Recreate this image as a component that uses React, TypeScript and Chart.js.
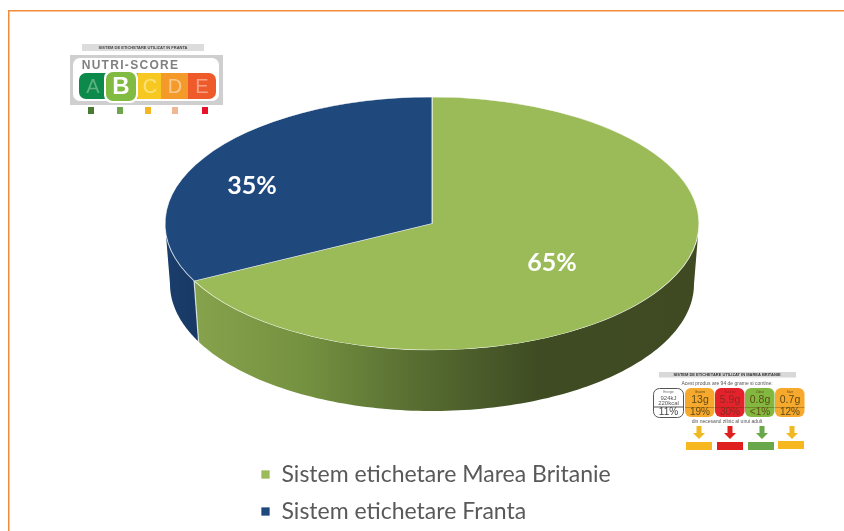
import React, { useEffect, useRef } from "react";
import { Chart, registerables } from "chart.js";

Chart.register(...registerables);

const categories = ["Sistem etichetare Marea Britanie", "Sistem etichetare Franta"];
const shareValues = [65, 35];
const sliceColors = ["#9BBB59", "#1F497D"];

// UK front-of-pack label contents
const ukHeaders = ["Grasimi", "Saturate", "Zahar", "Sare"];
const ukAmounts = ["13g", "5.9g", "0.8g", "0.7g"];
const ukPercents = ["19%", "30%", "<1%", "12%"];
const ukColors = ["#F6A92C", "#E3222C", "#82B83F", "#F6A92C"];
const ukArrowColors = ["#F0B823", "#E0201F", "#69A84A", "#F0B823"];
const nutriLetters = ["A", "C", "D", "E"];
const nutriSquares = ["#4A7A32", "#6DA64D", "#F2B722", "#EEB894", "#E8102A"];

const W = 844;
const H = 531;
const TOP = { cx: 432, cy: 223.5, rx: 267, ry: 126.5 };
const BOTTOM = { cx: 432, cy: 284, rx: 262, ry: 127 };
const PERSPECTIVE = 0.165;
const labelAnchors = [
  [552, 263],
  [252, 186],
];

const warp = (a: number) => {
  const t = a + Math.PI / 2;
  return t + PERSPECTIVE * Math.sin(2 * t) - Math.PI / 2;
};

function roundRect(ctx: any, x: number, y: number, w: number, h: number, r: number, fill: string) {
  ctx.beginPath();
  ctx.roundRect(x, y, w, h, r);
  ctx.fillStyle = fill;
  ctx.fill();
}

function text(ctx: any, s: string, x: number, y: number, font: string, color: string) {
  ctx.font = font;
  ctx.fillStyle = color;
  ctx.textAlign = "center";
  ctx.textBaseline = "middle";
  ctx.fillText(s, x, y);
}

function drawNutri(ctx: any) {
  roundRect(ctx, 82, 44, 122, 7, 0, "#DCDCDC");
  text(ctx, "SISTEM DE ETICHETARE UTILIZAT IN FRANTA", 143, 47.5, "bold 4px 'Liberation Sans'", "#444");
  roundRect(ctx, 70, 55, 153, 50, 0, "#CFCFCF");
  roundRect(ctx, 73, 58, 146, 43, 7, "#FFFFFF");
  ctx.letterSpacing = "1.3px";
  text(ctx, "NUTRI-SCORE", 130.5, 65.5, "bold 12px 'Liberation Sans'", "#808080");
  ctx.letterSpacing = "0px";
  ctx.save();
  ctx.beginPath();
  ctx.roundRect(79, 73, 137, 26, 7);
  ctx.clip();
  const segs: [number, number, string][] = [
    [79, 108, "#0B8A4C"],
    [108, 138, "#82BB41"],
    [138, 161, "#F7C820"],
    [161, 188, "#F39A2B"],
    [188, 216, "#EE5A2A"],
  ];
  segs.forEach(([a, b, c]) => {
    ctx.fillStyle = c;
    ctx.fillRect(a, 73, b - a, 26);
  });
  ctx.restore();
  const xs = [93, 150, 175, 202];
  const cols = ["#5FB083", "#FBE27F", "#F9C88B", "#F6A184"];
  nutriLetters.forEach((l, i) => text(ctx, l, xs[i], 87, "20px 'Liberation Sans'", cols[i]));
  roundRect(ctx, 104, 70, 34, 33, 8, "#FFFFFF");
  roundRect(ctx, 106, 72, 30, 29, 7, "#82BB41");
  text(ctx, "B", 121, 87, "bold 24px 'Liberation Sans'", "#FFFFFF");
  const sq = [88, 117, 145, 172, 202];
  nutriSquares.forEach((c, i) => roundRect(ctx, sq[i], 107, 6, 7, 0, c));
}

function drawUk(ctx: any) {
  roundRect(ctx, 659, 372, 137, 5.5, 0, "#D8D8D8");
  text(ctx, "SISTEM DE ETICHETARE UTILIZAT IN MAREA BRITANIE", 727, 375, "bold 4px 'Liberation Sans'", "#333");
  text(ctx, "Acest produs are 94 de grame si contine:", 727, 384, "5px 'Liberation Sans'", "#555");
  ctx.beginPath();
  ctx.roundRect(653.5, 388.5, 30, 29, 6);
  ctx.fillStyle = "#FFF";
  ctx.fill();
  ctx.strokeStyle = "#555";
  ctx.lineWidth = 1;
  ctx.stroke();
  ctx.beginPath();
  ctx.moveTo(654, 407);
  ctx.lineTo(683, 407);
  ctx.stroke();
  text(ctx, "Energie", 668.5, 392, "3px 'Liberation Sans'", "#666");
  text(ctx, "924kJ", 668.5, 398, "6px 'Liberation Sans'", "#555");
  text(ctx, "220kcal", 668.5, 403, "6px 'Liberation Sans'", "#555");
  text(ctx, "11%", 668.5, 412.5, "10px 'Liberation Sans'", "#444");
  ukAmounts.forEach((amount, i) => {
    const x = 685 + i * 30;
    roundRect(ctx, x, 388, 29.5, 29, 6, ukColors[i]);
    ctx.fillStyle = "rgba(90,60,0,.5)";
    ctx.fillRect(x, 407, 29.5, 0.7);
    const c = i === 1 ? "#8C2A22" : "#5F4A15";
    text(ctx, ukHeaders[i], x + 15, 392.5, "3px 'Liberation Sans'", c);
    text(ctx, amount, x + 15, 400.5, "10.5px 'Liberation Sans'", c);
    text(ctx, ukPercents[i], x + 15, 412.5, "10px 'Liberation Sans'", c);
  });
  text(ctx, "din necesarul zilnic al unui adult", 727, 422, "5px 'Liberation Sans'", "#555");
  const ax = [699, 730, 762, 792];
  const lx = [686, 717, 748, 778];
  ukArrowColors.forEach((c, i) => {
    const x = ax[i];
    ctx.beginPath();
    ctx.moveTo(x - 2.5, 426);
    ctx.lineTo(x + 2.5, 426);
    ctx.lineTo(x + 2.5, 433);
    ctx.lineTo(x + 6, 433);
    ctx.lineTo(x, 439);
    ctx.lineTo(x - 6, 433);
    ctx.lineTo(x - 2.5, 433);
    ctx.closePath();
    ctx.fillStyle = c;
    ctx.fill();
    roundRect(ctx, lx[i], i === 3 ? 441 : 442, 26, 8, 0, i === 3 || i === 0 ? "#F7B81F" : c);
  });
}

const LEGEND_PADDING = 14;

const pie3d = {
  id: "pie3d",
  afterDatasetsUpdate(chart: any) {
    chart.getDatasetMeta(0).data.forEach((arc: any) => {
      const s = warp(arc.startAngle);
      const e = warp(arc.endAngle);
      arc.startAngle = s;
      arc.endAngle = e;
      arc.circumference = e - s;
    });
  },
  afterLayout(chart: any) {
    const l = chart.legend;
    l.left = 261 - LEGEND_PADDING;
    l.right = 844;
    l.top = 449;
    l.bottom = 531;
  },
  beforeDraw(chart: any) {
    const ctx = chart.ctx;
    ctx.save();
    ctx.fillStyle = "#FFFFFF";
    ctx.fillRect(0, 0, W, H);
    ctx.fillStyle = "#F08A3C";
    ctx.fillRect(8, 10, W - 8, 1.5);
    ctx.fillRect(8, 10, 1.5, H - 10);
    ctx.filter = "blur(0.6px)";
    drawNutri(ctx);
    drawUk(ctx);
    ctx.filter = "none";
    ctx.restore();
  },
  beforeDatasetsDraw(chart: any) {
    const ctx = chart.ctx;
    const arcs = chart.getDatasetMeta(0).data;
    const ptT = (a: number) => [TOP.cx + TOP.rx * Math.cos(a), TOP.cy + TOP.ry * Math.sin(a)];
    const ptB = (a: number) => [BOTTOM.cx + BOTTOM.rx * Math.cos(a), BOTTOM.cy + BOTTOM.ry * Math.sin(a)];
    const green = ctx.createLinearGradient(195, 0, 699, 0);
    green.addColorStop(0, "#86A24C");
    green.addColorStop(0.22, "#749140");
    green.addColorStop(0.46, "#556A30");
    green.addColorStop(0.68, "#3F4C23");
    green.addColorStop(1, "#3F4A22");
    const blue = ctx.createLinearGradient(165, 0, 205, 0);
    blue.addColorStop(0, "#1A3D6C");
    blue.addColorStop(1, "#183862");
    const fills = [green, blue];
    ctx.save();
    arcs.forEach((arc: any, i: number) => {
      // visible front of the cylinder: canvas angles 0..PI
      const s = Math.max(arc.startAngle, 0);
      const e = Math.min(arc.endAngle, Math.PI);
      if (e <= s) return;
      ctx.beginPath();
      const steps = 120;
      for (let k = 0; k <= steps; k++) {
        const [x, y] = ptT(s + ((e - s) * k) / steps);
        if (k === 0) ctx.moveTo(x, y);
        else ctx.lineTo(x, y);
      }
      for (let k = steps; k >= 0; k--) {
        const [x, y] = ptB(s + ((e - s) * k) / steps);
        ctx.lineTo(x, y);
      }
      ctx.closePath();
      ctx.fillStyle = fills[i];
      ctx.fill();
    });
    // seam between the slices on the wall
    const seam = arcs[0].endAngle;
    const [x0, y0] = ptT(seam);
    const [x1, y1] = ptB(seam);
    ctx.strokeStyle = "rgba(255,255,255,.75)";
    ctx.lineWidth = 1.2;
    ctx.beginPath();
    ctx.moveTo(x0, y0);
    ctx.lineTo(x1, y1);
    ctx.stroke();
    ctx.restore();

    const R = arcs[0].outerRadius;
    ctx.save();
    ctx.translate(TOP.cx, TOP.cy);
    ctx.scale(TOP.rx / R, TOP.ry / R);
    ctx.translate(-arcs[0].x, -arcs[0].y);
  },
  afterDatasetsDraw(chart: any) {
    const ctx = chart.ctx;
    ctx.restore();
    ctx.save();
    shareValues.forEach((v, i) => {
      text(ctx, `${v}%`, labelAnchors[i][0], labelAnchors[i][1], "bold 25px Lato", "#FFFFFF");
    });
    ctx.restore();
  },
};

export default function App() {
  const ref = useRef<HTMLCanvasElement>(null);
  useEffect(() => {
    const chart = new Chart(ref.current as HTMLCanvasElement, {
      type: "pie",
      data: {
        labels: categories,
        datasets: [
          {
            data: shareValues,
            backgroundColor: sliceColors,
            borderColor: "rgba(255,255,255,.7)",
            borderWidth: 1,
            clip: false,
          } as any,
        ],
      },
      options: {
        animation: false,
        responsive: false,
        plugins: {
          tooltip: { enabled: false },
          legend: {
            position: "bottom",
            align: "start",
            maxWidth: 400,
            labels: {
              boxWidth: 9,
              boxHeight: 9,
              padding: LEGEND_PADDING,
              color: "#595959",
              font: { family: "Lato", size: 23 },
            },
          },
        } as any,
      },
      plugins: [pie3d],
    } as any);
    return () => chart.destroy();
  }, []);
  return (
    <div style={{ position: "fixed", left: 0, top: 0, width: W, height: H, background: "#fff" }}>
      <canvas ref={ref} width={W} height={H} style={{ display: "block" }} />
    </div>
  );
}
